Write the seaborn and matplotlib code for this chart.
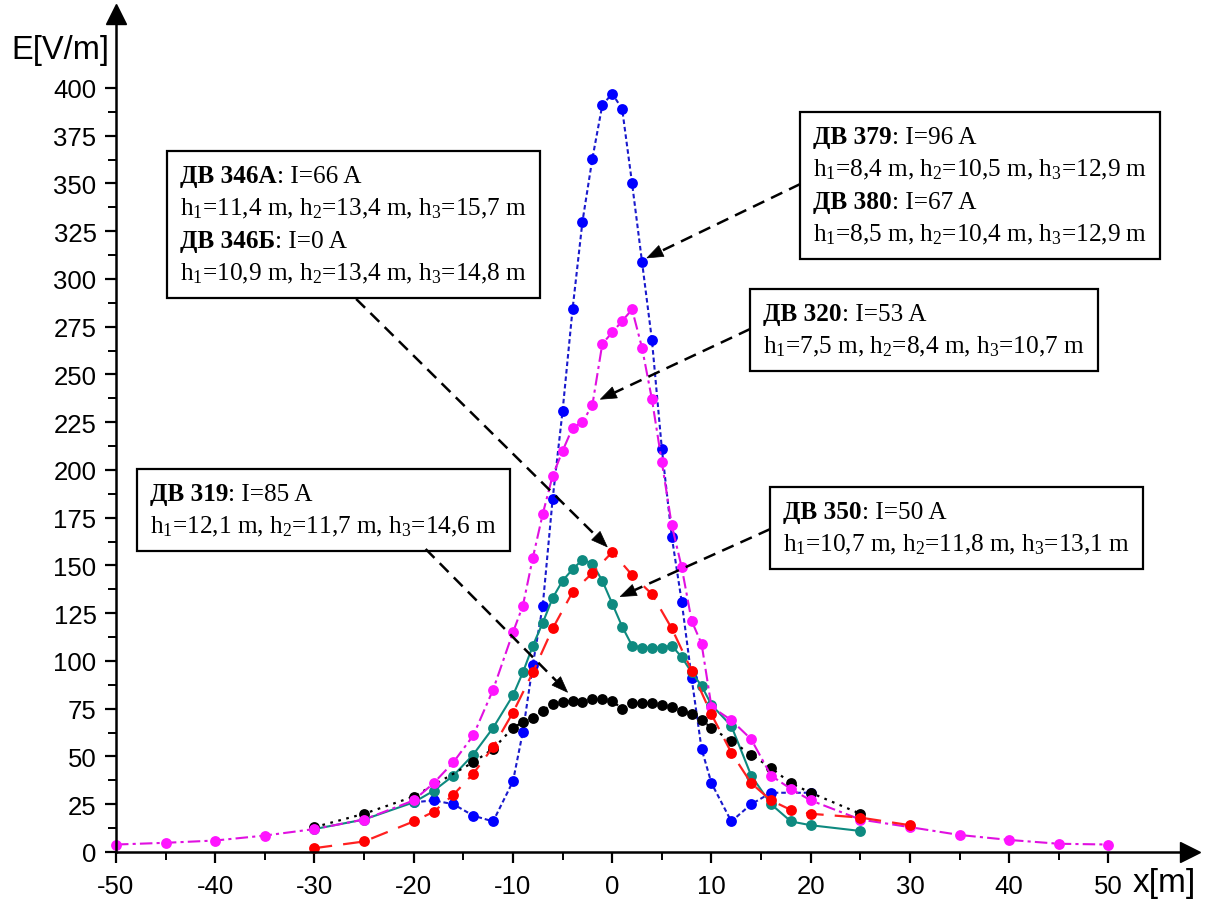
import numpy as np
import pandas as pd
import matplotlib
matplotlib.use('Agg')
import matplotlib.pyplot as plt
import seaborn as sns
from matplotlib.offsetbox import TextArea, HPacker, VPacker, AnnotationBbox
from matplotlib.ticker import FixedLocator
from matplotlib.patches import Polygon

# ---------------- data ----------------
x_blue = [-20, -18, -16, -14, -12, -10, -9, -8, -7, -6, -5, -4, -3, -2, -1, 0, 1, 2, 3, 4,
          5, 6, 7, 8, 9, 10, 12, 14, 16, 20]
e_blue = [26, 27, 25, 19, 16, 37, 63, 98, 129, 185, 231, 284, 330, 363, 391, 397, 389, 350, 309, 268,
          211, 165, 131, 91, 54, 36, 16, 25, 31, 31]

x_mag = [-50, -45, -40, -35, -30, -25, -20, -18, -16, -14, -12, -10, -9, -8, -7, -6, -5, -4, -3, -2,
         -1, 0, 1, 2, 3, 4, 5, 6, 7, 8, 9, 10, 12, 14, 16, 18, 20, 25, 30, 35, 40, 45, 50]
e_mag = [3.9, 4.8, 6, 8.6, 12, 17, 27, 36, 47, 61, 85, 115, 129, 154, 177, 197, 210, 222, 225, 234,
         266, 272, 278, 284, 264, 237, 204, 171, 149, 121, 109, 76, 69, 59, 40, 33, 27, 17, 13, 8.9, 6.3, 4.3, 3.9]

x_red = [-30, -25, -20, -18, -16, -14, -12, -10, -8, -6, -4, -2, 0, 2, 4, 6, 8, 10, 12, 14,
         16, 18, 20, 25, 30]
e_red = [2, 5.5, 16, 21, 30, 41, 55, 73, 94, 117, 136, 146, 157, 145, 135, 117, 95, 72, 52, 36,
         27, 22, 20, 18, 14]

x_teal = [-30, -25, -20, -18, -16, -14, -12, -10, -9, -8, -7, -6, -5, -4, -3, -2, -1, 0, 1, 2,
          3, 4, 5, 6, 7, 8, 9, 10, 12, 14, 16, 18, 20, 25]
e_teal = [12, 17, 26, 32, 40, 51, 65, 82, 94, 108, 120, 133, 142, 148, 153, 151, 142, 130, 118, 108,
          107, 107, 107, 108, 102, 94, 87, 77, 66, 40, 25, 16, 14, 11]

x_black = [-30, -25, -20, -14, -12, -10, -9, -8, -7, -6, -5, -4, -3, -2, -1, 0, 1, 2, 3, 4,
           5, 6, 7, 8, 9, 10, 12, 14, 16, 18, 20, 25]
e_black = [13, 20, 29, 47, 54, 65, 68, 70, 74, 77.5, 78.5, 79, 78.5, 80, 80, 79, 75, 78, 78, 78,
           77, 76, 74, 72, 69, 65, 58, 51, 44, 36, 31, 20]

x_ticks = [-50, -40, -30, -20, -10, 0, 10, 20, 30, 40, 50]
y_ticks = list(range(0, 401, 25))

# annotation texts: list of (bold part, regular part)
box_346 = [("ДВ 346А", ": I=66 A"), ("", "h$_1$=11,4 m, h$_2$=13,4 m, h$_3$=15,7 m"),
           ("ДВ 346Б", ": I=0 A"), ("", "h$_1$=10,9 m, h$_2$=13,4 m, h$_3$=14,8 m")]
box_379 = [("ДВ 379", ": I=96 A"), ("", "h$_1$=8,4 m, h$_2$=10,5 m, h$_3$=12,9 m"),
           ("ДВ 380", ": I=67 A"), ("", "h$_1$=8,5 m, h$_2$=10,4 m, h$_3$=12,9 m")]
box_320 = [("ДВ 320", ": I=53 A"), ("", "h$_1$=7,5 m, h$_2$=8,4 m, h$_3$=10,7 m")]
box_319 = [("ДВ 319", ": I=85 A"), ("", "h$_1$=12,1 m, h$_2$=11,7 m, h$_3$=14,6 m")]
box_350 = [("ДВ 350", ": I=50 A"), ("", "h$_1$=10,7 m, h$_2$=11,8 m, h$_3$=13,1 m")]

# ---------------- style ----------------
sns.set_theme(style='white')
plt.rcParams['font.family'] = ['Liberation Sans', 'DejaVu Sans']
plt.rcParams['axes.unicode_minus'] = False
plt.rcParams['mathtext.fontset'] = 'custom'
plt.rcParams['mathtext.rm'] = 'Liberation Serif'
plt.rcParams['mathtext.it'] = 'Liberation Serif:italic'
plt.rcParams['mathtext.bf'] = 'Liberation Serif:bold'

fig = plt.figure(figsize=(12.08, 9.03), dpi=100)
ax = fig.add_axes([0.096, 0.0554, 0.889, 0.928])

XL, XR = -50, 58.2
YB, YT = 0, 438.7

series = [
    (x_blue, e_blue, '#0000ff', '#1a1acc', (0, (2.2, 1.4)), 1.5),
    (x_teal, e_teal, '#0e8a80', '#0e8a80', '-', 1.5),
    (x_black, e_black, '#000000', '#000000', (0, (1.2, 2.5)), 1.6),
    (x_mag, e_mag, '#ff14ff', '#e010e0', (0, (6, 2, 1.5, 2)), 1.5),
    (x_red, e_red, '#ff0000', '#ff2020', (0, (8, 5)), 1.6),
]
for xs, es, mc, lc, ls, lw in series:
    sns.lineplot(x=xs, y=es, ax=ax, color=lc, linestyle=ls, linewidth=lw,
                 marker='o', markersize=7.8, markerfacecolor=mc, markeredgecolor=mc,
                 markeredgewidth=0, errorbar=None, clip_on=False)

ax.set_xlim(XL, XR)
ax.set_ylim(YB, YT)
ax.set_xlabel('')
ax.set_ylabel('')

for s in ['top', 'right']:
    ax.spines[s].set_visible(False)
for s in ['left', 'bottom']:
    ax.spines[s].set_color('black')
    ax.spines[s].set_linewidth(1.8)

ax.xaxis.set_major_locator(FixedLocator(x_ticks))
ax.xaxis.set_minor_locator(FixedLocator([v + 5 for v in x_ticks[:-1]]))
ax.yaxis.set_major_locator(FixedLocator(y_ticks))
ax.yaxis.set_minor_locator(FixedLocator([v + 12.5 for v in y_ticks[:-1]]))
ax.tick_params(axis='both', which='major', direction='out', length=8, width=1.6,
               colors='black', labelsize=18.5, bottom=True, left=True)
ax.tick_params(axis='both', which='minor', direction='out', length=6, width=1.4,
               colors='black', bottom=True, left=True)
ax.tick_params(axis='x', which='major', pad=8)
ax.tick_params(axis='y', which='major', pad=6)

# axis arrow heads
ax.plot(1, 0, marker='>', ms=15, color='black', transform=ax.transAxes, clip_on=False)
ax.plot(0, 1, marker='^', ms=15, color='black', transform=ax.transAxes, clip_on=False)

fig.text(11 / 1208, 1 - 50 / 903, 'E[V/m]', ha='left', va='center', size=23.5, color='black')
fig.text(1133 / 1208, 1 - 884 / 903, 'x[m]', ha='left', va='center', size=24, color='black')

# ---------------- annotation boxes ----------------
FS = 18.2
px_x = (XR - XL) / (0.889 * 1208)
px_y = (YT - YB) / (0.928 * 903)


def make_box(lines, corner_px):
    rows = []
    for bold, rest in lines:
        parts = []
        if bold:
            parts.append(TextArea(bold, textprops=dict(family='Liberation Serif', weight='bold',
                                                       size=FS, color='black')))
        parts.append(TextArea(rest, textprops=dict(family='Liberation Serif', size=FS, color='black')))
        rows.append(HPacker(children=parts, align='baseline', pad=0, sep=0))
    vp = VPacker(children=rows, align='left', pad=0, sep=6.5)
    pad_px = 13
    cx = XL + (corner_px[0] + pad_px - 116) * px_x
    cy = YB + (853 - corner_px[1] - pad_px) * px_y
    ab = AnnotationBbox(vp, (cx, cy), xycoords='data', box_alignment=(0, 1), frameon=True,
                        pad=pad_px * 0.72 / FS, fontsize=FS,
                        bboxprops=dict(edgecolor='black', linewidth=1.6, facecolor='white'))
    ab.set_zorder(5)
    ax.add_artist(ab)


make_box(box_346, (167, 152))
make_box(box_379, (800, 113))
make_box(box_320, (750, 290))
make_box(box_319, (137, 470))
make_box(box_350, (770, 488))


def arrow(start, tip, head_len=16, head_half=6):
    p0 = ax.transData.transform(start)
    p1 = ax.transData.transform(tip)
    d = p1 - p0
    u = d / np.hypot(*d)
    n = np.array([-u[1], u[0]])
    base = p1 - head_len * u
    inv = ax.transData.inverted()
    b = inv.transform(base)
    ax.plot([start[0], b[0]], [start[1], b[1]], color='black', lw=1.8,
            linestyle=(0, (5, 3)), zorder=6, clip_on=False)
    tri = inv.transform(np.array([p1, base + head_half * n, base - head_half * n]))
    ax.add_patch(Polygon(tri, closed=True, facecolor='black', edgecolor='black', lw=0.5,
                         zorder=6, clip_on=False))


arrow((-25.8, 289.5), (-0.5, 159.7))
arrow((18.95, 349.7), (3.5, 311))
arrow((13.9, 273.8), (-1.2, 237))
arrow((-18.8, 158.6), (-4.5, 83.6))
arrow((15.9, 169), (0.8, 133.7))

fig.savefig('out.png', dpi=100, facecolor='white')
